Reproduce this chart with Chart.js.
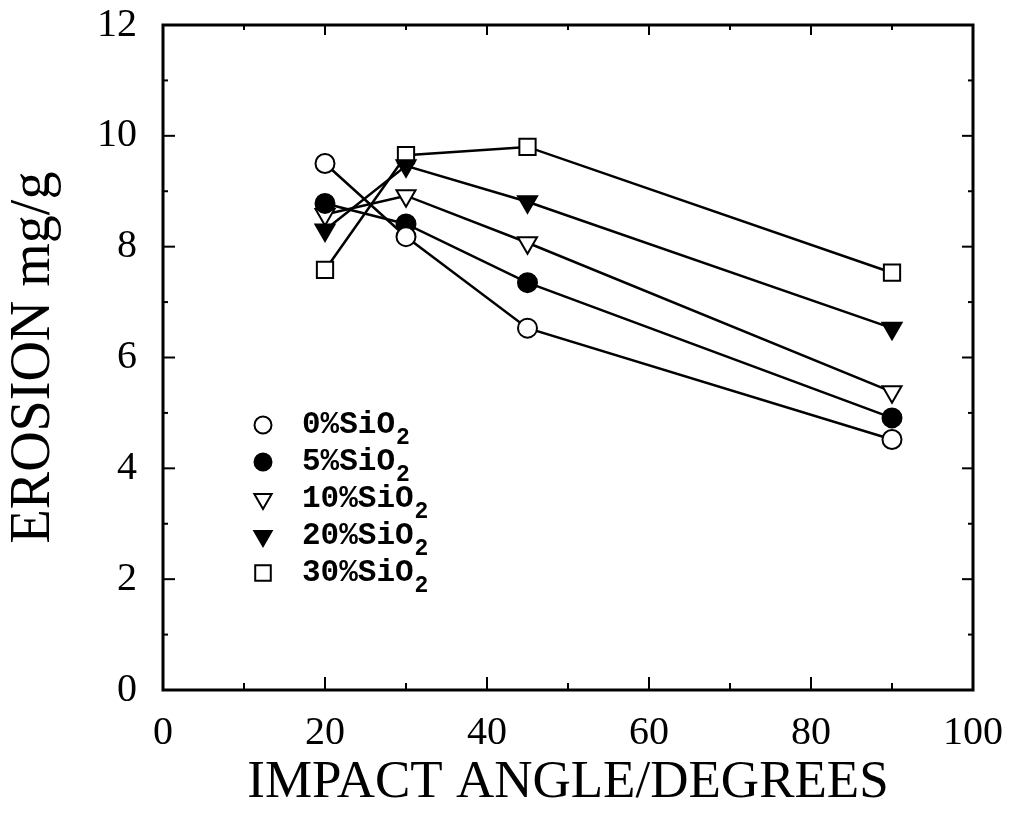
<!DOCTYPE html>
<html><head><meta charset="utf-8">
<script src="https://cdn.jsdelivr.net/npm/chart.js@4/dist/chart.umd.min.js"></script>
<style>html,body{margin:0;padding:0;background:#fff}#wrap{width:1015px;height:831px}</style>
</head><body><div id="wrap"><canvas id="c" width="1015" height="831"></canvas></div>
<script>
// ---- data ----
const angles = [20, 30, 45, 90];
const sio2_0  = [9.50, 8.18, 6.53, 4.52];
const sio2_5  = [8.78, 8.41, 7.35, 4.91];
const sio2_10 = [8.58, 8.92, 8.07, 5.38];
const sio2_20 = [8.30, 9.46, 8.81, 6.53];
const sio2_30 = [7.58, 9.65, 9.80, 7.53];
const seriesLabels = ['0%SiO2', '5%SiO2', '10%SiO2', '20%SiO2', '30%SiO2'];
const xTicks = [0, 20, 40, 60, 80, 100];
const yTicks = [0, 2, 4, 6, 8, 10, 12];
const xTitle = 'IMPACT ANGLE/DEGREES';
const yTitle = 'EROSION mg/g';

const seriesValues = [sio2_0, sio2_5, sio2_10, sio2_20, sio2_30];
const markerStyles = [
  {pointStyle: 'circle',   rotation: 0,   fill: '#ffffff', r: 9.5, lr: 8.5},
  {pointStyle: 'circle',   rotation: 0,   fill: '#000000', r: 9.5, lr: 8.5},
  {pointStyle: 'triangle', rotation: 180, fill: '#ffffff', r: 11,  lr: 10},
  {pointStyle: 'triangle', rotation: 180, fill: '#000000', r: 11,  lr: 10},
  {pointStyle: 'rect',     rotation: 0,   fill: '#ffffff', r: 11.5, lr: 11}
];

const datasets = seriesValues.map((vals, i) => ({
  label: seriesLabels[i],
  data: angles.map((a, j) => ({x: a, y: vals[j]})),
  borderColor: '#000',
  borderWidth: 2.5,
  backgroundColor: markerStyles[i].fill,
  pointBackgroundColor: markerStyles[i].fill,
  pointBorderColor: '#000',
  pointBorderWidth: 2,
  pointStyle: markerStyles[i].pointStyle,
  pointRotation: markerStyles[i].rotation,
  pointRadius: markerStyles[i].r,
  pointHoverRadius: markerStyles[i].r,
  tension: 0,
  fill: false
}));

const framePlugin = {
  id: 'frame',
  beforeDatasetsDraw(chart) {
    const {ctx, chartArea: a, scales: {x, y}} = chart;
    ctx.save();
    ctx.strokeStyle = '#000';
    ctx.lineCap = 'butt';
    const seg = (x1, y1, x2, y2) => { ctx.beginPath(); ctx.moveTo(x1, y1); ctx.lineTo(x2, y2); ctx.stroke(); };
    ctx.lineWidth = 2;
    const xStep = xTicks[1] - xTicks[0];
    for (let i = 0; i < xTicks.length; i++) {
      const px = x.getPixelForValue(xTicks[i]);
      seg(px, a.bottom, px, a.bottom - 13); seg(px, a.top, px, a.top + 10);
      if (i < xTicks.length - 1) {
        const pm = x.getPixelForValue(xTicks[i] + xStep / 2);
        seg(pm, a.bottom, pm, a.bottom - 7); seg(pm, a.top, pm, a.top + 5);
      }
    }
    const yStep = yTicks[1] - yTicks[0];
    for (let i = 0; i < yTicks.length; i++) {
      const py = y.getPixelForValue(yTicks[i]);
      seg(a.left, py, a.left + 12, py); seg(a.right, py, a.right - 11, py);
      if (i < yTicks.length - 1) {
        const pm = y.getPixelForValue(yTicks[i] + yStep / 2);
        seg(a.left, pm, a.left + 5, pm); seg(a.right, pm, a.right - 5, pm);
      }
    }
    ctx.lineWidth = 3;
    ctx.strokeRect(a.left, a.top, a.right - a.left, a.bottom - a.top);
    ctx.restore();
  }
};

const legendPlugin = {
  id: 'innerLegend',
  afterDatasetsDraw(chart) {
    const {ctx, chartArea: a} = chart;
    const mx = a.left + 100, ty = a.top + 400, gap = 37, tx = a.left + 139;
    ctx.save();
    chart.data.datasets.forEach((ds, i) => {
      const cy = ty + i * gap;
      const st = markerStyles[i];
      ctx.fillStyle = st.fill; ctx.strokeStyle = '#000'; ctx.lineWidth = 2;
      Chart.helpers.drawPoint(ctx, {pointStyle: st.pointStyle, rotation: st.rotation, radius: st.lr, borderWidth: 2}, mx, cy);
      const main = ds.label.slice(0, -1), sub = ds.label.slice(-1);
      ctx.fillStyle = '#000';
      ctx.textBaseline = 'middle';
      ctx.textAlign = 'left';
      ctx.font = 'bold 31px "Liberation Mono"';
      ctx.fillText(main, tx, cy);
      const w = ctx.measureText(main).width;
      ctx.font = 'bold 23px "Liberation Mono"';
      ctx.fillText(sub, tx + w + 1, cy + 13);
    });
    ctx.restore();
  }
};

new Chart(document.getElementById('c'), {
  type: 'line',
  data: {datasets},
  options: {
    responsive: false,
    animation: false,
    devicePixelRatio: 1,
    layout: {padding: {left: 0, right: 42, top: 25, bottom: 0}},
    plugins: {legend: {display: false}, tooltip: {enabled: false}},
    scales: {
      x: {
        type: 'linear', min: 0, max: 100,
        afterBuildTicks: s => { s.ticks = xTicks.map(v => ({value: v})); },
        afterFit: s => { s.height = 141; s.paddingLeft = 0; s.paddingRight = 0; },
        grid: {display: false, drawTicks: false},
        border: {display: false},
        ticks: {padding: 19, color: '#000', maxRotation: 0, autoSkip: false,
                font: {family: '"Liberation Serif"', size: 40}},
        title: {display: true, text: xTitle, color: '#000',
                font: {family: '"Liberation Serif"', size: 53, lineHeight: 1},
                padding: {top: 0, bottom: 21}}
      },
      y: {
        type: 'linear', min: 0, max: 12,
        afterBuildTicks: s => { s.ticks = yTicks.map(v => ({value: v})); },
        afterFit: s => { s.width = 163; s.paddingTop = 0; s.paddingBottom = 0; },
        grid: {display: false, drawTicks: false},
        border: {display: false},
        ticks: {padding: 26, color: '#000', autoSkip: false,
                font: {family: '"Liberation Serif"', size: 40}},
        title: {display: true, text: yTitle, color: '#000',
                font: {family: '"Liberation Serif"', size: 56, lineHeight: 1},
                padding: {top: 6, bottom: 0}}
      }
    }
  },
  plugins: [framePlugin, legendPlugin]
});
</script></body></html>
